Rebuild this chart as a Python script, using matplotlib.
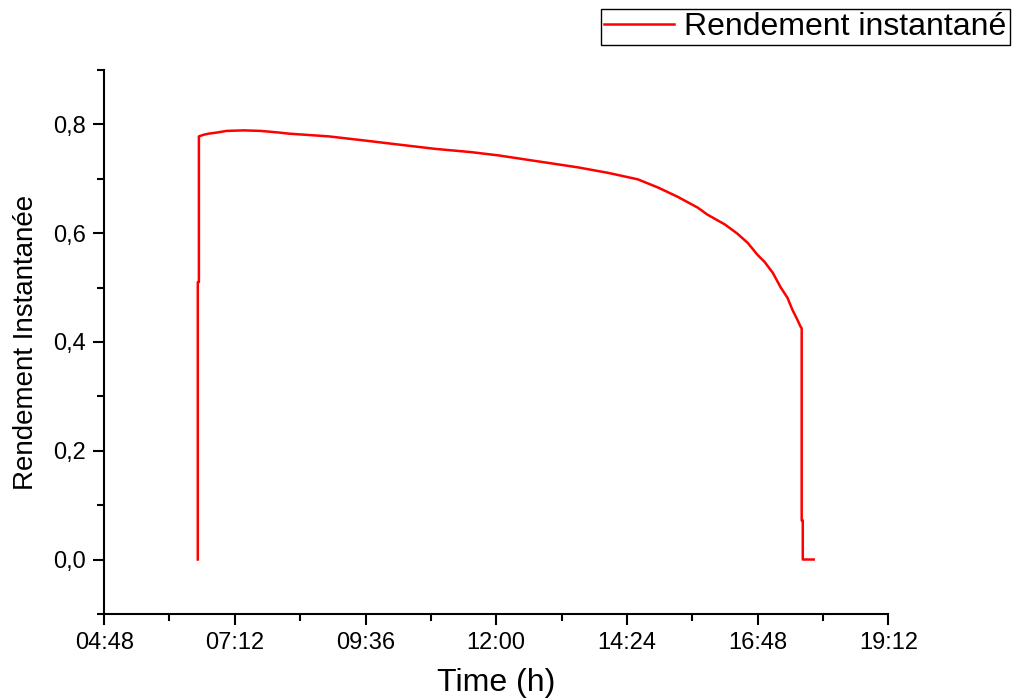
import matplotlib
matplotlib.use('Agg')
import matplotlib.pyplot as plt
from matplotlib.ticker import FuncFormatter, MultipleLocator

plt.rcParams['font.family'] = ['Liberation Sans', 'DejaVu Sans']

# time in decimal hours, instantaneous efficiency
hours = [6.52, 6.52, 6.54, 6.54, 6.63, 6.72, 6.87, 7.05, 7.36, 7.68, 8.01, 8.19,
         8.92, 9.53, 10.2, 10.88, 11.54, 12.04, 12.77, 13.5, 14.05, 14.6,
         14.97, 15.33, 15.7, 15.88, 16.2, 16.43, 16.62, 16.8, 16.93, 17.08,
         17.22, 17.35, 17.44, 17.53, 17.59, 17.61, 17.61, 17.63, 17.63, 17.83]
rendement = [0.0, 0.51, 0.51, 0.778, 0.781, 0.783, 0.785, 0.788, 0.789, 0.788, 0.785, 0.783,
             0.778, 0.771, 0.763, 0.755, 0.749, 0.743, 0.732, 0.721, 0.711, 0.699,
             0.684, 0.667, 0.647, 0.634, 0.616, 0.599, 0.582, 0.560, 0.547, 0.527,
             0.501, 0.481, 0.459, 0.441, 0.428, 0.425, 0.072, 0.072, 0.0, 0.0]

fig = plt.figure(figsize=(10.21, 7), dpi=100)
ax = fig.add_axes([0.102, 0.123, 0.768, 0.777])

ax.plot(hours, rendement, color='red', lw=1.8, label='Rendement instantané')

ax.set_xlim(4.8, 19.2)
ax.set_ylim(-0.1, 0.9)
ax.xaxis.set_major_locator(MultipleLocator(2.4))
ax.xaxis.set_minor_locator(MultipleLocator(1.2))
ax.yaxis.set_major_locator(MultipleLocator(0.2))
ax.yaxis.set_minor_locator(MultipleLocator(0.1))

def hhmm(v, pos):
    m = int(round(v * 60))
    return '%02d:%02d' % (m // 60, m % 60)

ax.xaxis.set_major_formatter(FuncFormatter(hhmm))
ax.yaxis.set_major_formatter(FuncFormatter(lambda v, p: ('%.1f' % v).replace('.', ',')))

for s in ['top', 'right']:
    ax.spines[s].set_visible(False)
for s in ['left', 'bottom']:
    ax.spines[s].set_linewidth(1.5)

ax.tick_params(which='major', direction='out', length=8, width=1.5, labelsize=17, pad=5)
ax.tick_params(which='minor', direction='out', length=5, width=1.5)

ax.set_xlabel('Time (h)', fontsize=23, labelpad=10)
ax.set_ylabel('Rendement Instantanée', fontsize=20, labelpad=10)

ax.legend(loc='upper left', bbox_to_anchor=(601 / 1021, 1 - 9 / 700),
          bbox_transform=fig.transFigure, fontsize=23, fancybox=False,
          edgecolor='black', framealpha=1, handlelength=2.2, handletextpad=0.3,
          borderpad=0.1, borderaxespad=0)

plt.savefig('out.png', dpi=100)
